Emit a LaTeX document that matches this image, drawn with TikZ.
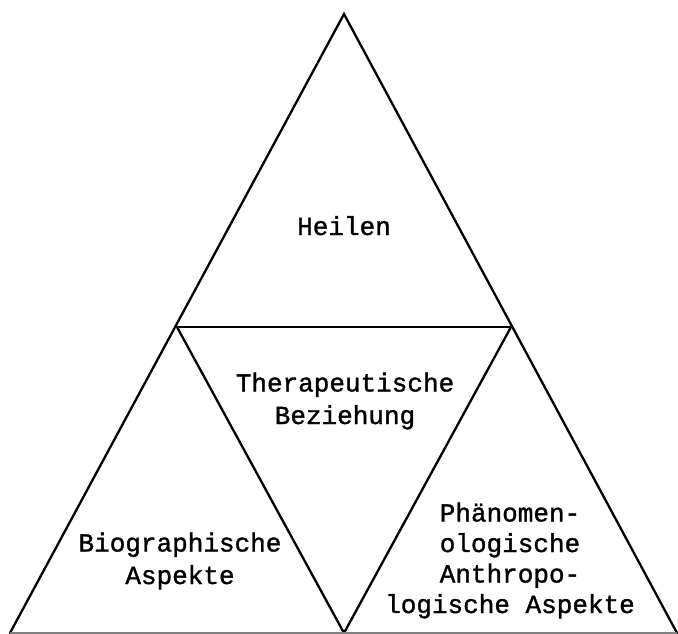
\documentclass[tikz,border=0pt]{standalone}
\usepackage{fontspec}
\newfontfamily\twfont[FakeBold=1.3]{Liberation Mono}
\begin{document}
\begin{tikzpicture}[x=1pt,y=-1pt,
  edge/.style={line width=2.3pt,line join=miter,line cap=round},
  baseedge/.style={line width=1.5pt,gray},
  lbl/.style={font=\twfont\fontsize{26}{32.5}\selectfont,align=center,inner sep=0pt,anchor=base},
  lblr/.style={font=\twfont\fontsize{26}{30.5}\selectfont,align=center,inner sep=0pt,anchor=base}]
\useasboundingbox (0,0) rectangle (678,634);
\coordinate (A) at (344,14);
\coordinate (BL) at (10,633);
\coordinate (BR) at (677,633);
\coordinate (ML) at (177,327);
\coordinate (MR) at (511,327);
\coordinate (MB) at (344,633);
\draw[edge] (BL) -- (A) -- (BR);
\draw[edge] (ML) -- (MR);
\draw[edge] (ML) -- (MB) -- (MR);
\draw[baseedge] (BL) -- (BR);
\node[lbl] (heilen) at (344,235) {Heilen};
\node[lbl] (thera) at (345,424) {Therapeutische\\Beziehung};
\node[lbl] (bio) at (180,584) {Biographische\\Aspekte};
\node[lblr] (phaen) at (510,613) {Phänomen-\\ologische\\Anthropo-\\logische Aspekte};
\end{tikzpicture}
\end{document}
